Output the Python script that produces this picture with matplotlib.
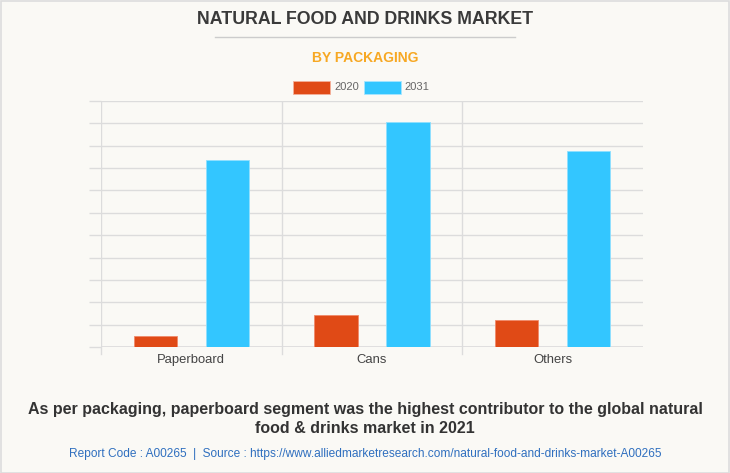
import matplotlib
matplotlib.use("Agg")
import matplotlib.pyplot as plt
from matplotlib import font_manager
from matplotlib.patches import Rectangle
from matplotlib.lines import Line2D
import numpy as np

# data (units = one gridline step)
categories = ["Paperboard", "Cans", "Others"]
years = ["2020", "2031"]
values_2020 = [0.49, 1.42, 1.22]
values_2031 = [8.35, 10.06, 8.77]
n_grid = 11

colors = {"2020": "#e04a16", "2031": "#33c6ff"}
bg = "#faf9f5"
grid_col = "#dcdcdc"

available = {f.name for f in font_manager.fontManager.ttflist}
narrow = "Liberation Sans Narrow" if "Liberation Sans Narrow" in available else "Liberation Sans"
plt.rcParams["font.family"] = ["Liberation Sans", "DejaVu Sans"]

W, H = 730, 473
fig = plt.figure(figsize=(W / 100, H / 100), dpi=100, facecolor=bg)

def fx(px):
    return px / W

def fy(py):
    return 1 - py / H

# outer border
fig.patches.append(Rectangle((0.5 / W, 0.5 / H), 1 - 1.5 / W, 1 - 1.5 / H, transform=fig.transFigure,
                             fill=False, edgecolor="#dddddd", linewidth=1.2))

# plot area
left, right, top, bottom = 101, 643, 101, 347
ax = fig.add_axes([fx(left), fy(bottom), fx(right - left), (bottom - top) / H])
ax.set_facecolor(bg)

x = np.arange(len(categories))
width = 0.24
ax.bar(x - 0.2, values_2020, width, color=colors["2020"], edgecolor="#f08a6a", linewidth=0.6, zorder=3)
ax.bar(x + 0.2, values_2031, width, color=colors["2031"], edgecolor="#8fe0ff", linewidth=0.6, zorder=3)

ax.set_xlim(-0.5, len(categories) - 0.5)
ax.set_ylim(0, n_grid)
ax.set_yticks(np.arange(0, n_grid + 1))
ax.set_yticklabels([])
ax.tick_params(axis="y", length=9, color=grid_col, width=1)
ax.grid(axis="y", color=grid_col, linewidth=1, zorder=0)

ax.set_xticks(x)
ax.set_xticklabels(categories, fontsize=9.4, color="#444444")
ax.tick_params(axis="x", length=0, pad=5)
for b in np.arange(-0.5, len(categories) - 0.5):
    ax.axvline(b, color=grid_col, linewidth=1, zorder=1)
    ax.add_line(Line2D([b, b], [0, -0.33], color=grid_col, linewidth=1, clip_on=False))

for s in ax.spines.values():
    s.set_visible(False)
ax.axhline(0, color=grid_col, linewidth=1.2, zorder=2)

# titles
fig.text(0.5, fy(20), "NATURAL FOOD AND DRINKS MARKET", ha="center", va="center",
         fontsize=12.8, fontweight="bold", color="#3a3a3a", family=[narrow, "DejaVu Sans"])
fig.add_artist(Line2D([fx(215), fx(515)], [fy(37), fy(37)], color="#cccccc", linewidth=1))
fig.text(0.5, fy(58), "BY PACKAGING", ha="center", va="center",
         fontsize=10, fontweight="bold", color="#f7a823", family=[narrow, "DejaVu Sans"])

# legend
for i, yr in enumerate(years):
    x0 = 293 + i * 70.5
    fig.patches.append(Rectangle((fx(x0), fy(94)), fx(37), 13 / H, transform=fig.transFigure,
                                 facecolor=colors[yr], edgecolor="#f4b09a" if i == 0 else "#a6e6ff",
                                 linewidth=0.6))
    fig.text(fx(x0 + 41), fy(87.5), yr, ha="left", va="center", fontsize=8,
             color="#666666", family=[narrow, "DejaVu Sans"])

# footer
fig.text(0.5, fy(419), "As per packaging, paperboard segment was the highest contributor to the global natural\n"
         "food & drinks market in 2021", ha="center", va="center", fontsize=11.5, fontweight="bold",
         color="#333333", linespacing=1.3, family=[narrow, "DejaVu Sans"])
fig.text(0.5, fy(454), "Report Code : A00265  |  Source : https://www.alliedmarketresearch.com/natural-food-and-drinks-market-A00265",
         ha="center", va="center", fontsize=8.6, color="#2f6fbf", family=[narrow, "DejaVu Sans"])

fig.savefig("out.png", dpi=100, facecolor=bg)
